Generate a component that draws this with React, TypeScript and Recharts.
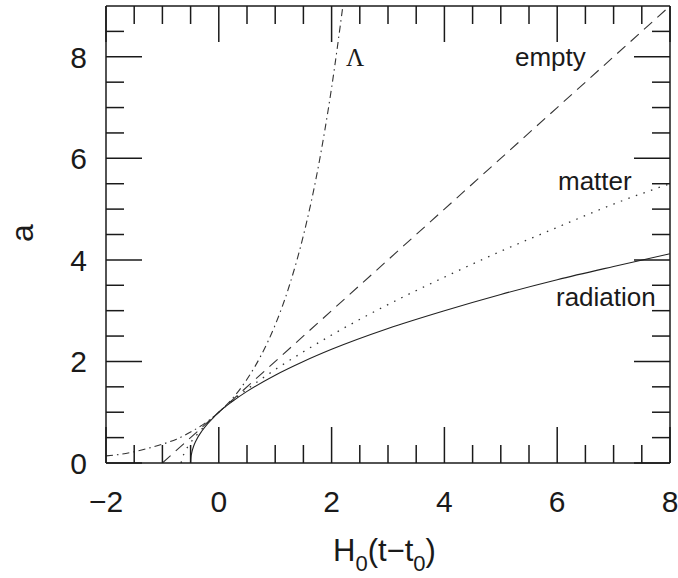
import { LineChart, Line, XAxis, YAxis, ReferenceLine } from "recharts";

// scale factor a vs H0(t-t0)
const lambdaX = [-2, -1.75, -1.5, -1.25, -1, -0.75, -0.5, -0.25, 0, 0.25, 0.5, 0.75, 1, 1.25, 1.5, 1.75, 2, 2.2];
const lambdaA = [0.14, 0.17, 0.22, 0.29, 0.37, 0.47, 0.61, 0.78, 1.0, 1.28, 1.65, 2.12, 2.72, 3.49, 4.48, 5.75, 7.39, 9.0];

const emptyX = [-1, 0, 2, 4, 6, 8];
const emptyA = [0, 1, 3, 5, 7, 9];

const matterX = [-0.667, -0.66, -0.65, -0.6, -0.5, -0.4, -0.3, -0.2, -0.1, 0, 0.5, 1, 1.5, 2, 3, 4, 5, 6, 7, 8];
const matterA = [0, 0.05, 0.09, 0.22, 0.4, 0.54, 0.67, 0.79, 0.9, 1.0, 1.45, 1.84, 2.19, 2.52, 3.12, 3.66, 4.17, 4.64, 5.1, 5.5];

const radX = [-0.5, -0.495, -0.48, -0.45, -0.4, -0.3, -0.2, -0.1, 0, 0.25, 0.5, 1, 1.5, 2, 3, 4, 5, 6, 7, 8];
const radA = [0, 0.1, 0.2, 0.32, 0.45, 0.63, 0.77, 0.89, 1.0, 1.22, 1.41, 1.73, 2.0, 2.24, 2.65, 3.0, 3.32, 3.61, 3.87, 4.12];

const xTicks = [-2, -1.5, -1, -0.5, 0, 0.5, 1, 1.5, 2, 2.5, 3, 3.5, 4, 4.5, 5, 5.5, 6, 6.5, 7, 7.5, 8];
const yTicks = [0, 0.5, 1, 1.5, 2, 2.5, 3, 3.5, 4, 4.5, 5, 5.5, 6, 6.5, 7, 7.5, 8, 8.5];

const zip = (xs: number[], as: number[]) => xs.map((x, i) => ({ x, a: as[i] }));

const W = 678, H = 578;
const M = { top: 6, right: 8, bottom: 85, left: 46 };
const PW = W - 106 - M.right;
const PH = H - M.top - 115;
const INK = "#1a1a1a";
const SANS = "'Liberation Sans', Arial, sans-serif";
const fmt = (v: number) => (v < 0 ? "\u2212" + Math.abs(v) : String(v));

function XTick(p: any) {
  const { x, y, payload } = p;
  const v = payload.value as number;
  const major = v % 2 === 0;
  const len = major ? 36 : 18;
  return (
    <g>
      <line x1={x} x2={x} y1={y} y2={y - len} stroke={INK} strokeWidth={1.5} />
      <line x1={x} x2={x} y1={y - PH} y2={y - PH + len} stroke={INK} strokeWidth={1.5} />
      {major && (
        <text x={x} y={y + 49} textAnchor="middle" fontSize={30} fontFamily={SANS} fill={INK}>
          {fmt(v)}
        </text>
      )}
    </g>
  );
}

function YTick(p: any) {
  const { x, y, payload } = p;
  const v = payload.value as number;
  const major = v % 2 === 0;
  const len = major ? 36 : 18;
  return (
    <g>
      <line x1={x} x2={x + len} y1={y} y2={y} stroke={INK} strokeWidth={1.5} />
      <line x1={x + PW} x2={x + PW - len} y1={y} y2={y} stroke={INK} strokeWidth={1.5} />
      {major && (
        <text x={x - 19} y={y + 11} textAnchor="end" fontSize={30} fontFamily={SANS} fill={INK}>
          {fmt(v)}
        </text>
      )}
    </g>
  );
}

export default function App() {
  return (
    <div style={{ position: "absolute", left: 0, top: 0, width: W, height: H, background: "#fff" }}>
      <LineChart width={W} height={H} margin={M}>
        <XAxis dataKey="x" type="number" domain={[-2, 8]} ticks={xTicks} interval={0} allowDataOverflow
          tickSize={0} tickMargin={0} tickLine={false} tick={XTick} height={30}
          axisLine={{ stroke: INK, strokeWidth: 1.5 }} />
        <YAxis type="number" domain={[0, 9]} ticks={yTicks} interval={0} allowDataOverflow
          tickSize={0} tickMargin={0} tickLine={false} tick={YTick} width={60}
          axisLine={{ stroke: INK, strokeWidth: 1.5 }} />
        <ReferenceLine y={9} stroke={INK} strokeWidth={1.5} />
        <ReferenceLine x={8} stroke={INK} strokeWidth={1.5} />
        <Line data={zip(lambdaX, lambdaA)} dataKey="a" type="monotone" stroke="#333" strokeWidth={1.1}
          strokeDasharray="7 4 1.5 4" dot={false} isAnimationActive={false} />
        <Line data={zip(emptyX, emptyA)} dataKey="a" type="linear" stroke="#333" strokeWidth={1.1}
          strokeDasharray="11 7" dot={false} isAnimationActive={false} />
        <Line data={zip(matterX, matterA)} dataKey="a" type="monotone" stroke="#333" strokeWidth={1.3}
          strokeDasharray="1.5 6.5" dot={false} isAnimationActive={false} />
        <Line data={zip(radX, radA)} dataKey="a" type="monotone" stroke="#222" strokeWidth={1.1}
          dot={false} isAnimationActive={false} />
      </LineChart>
      <svg width={W} height={H} style={{ position: "absolute", left: 0, top: 0, pointerEvents: "none" }}>
        <g fontFamily={SANS} fill={INK}>
          <text transform="translate(33,233) rotate(-90)" textAnchor="middle" fontSize={32}>a</text>
          <text x={333} y={561} fontSize={31}>
            H<tspan fontSize={22} dy={10}>0</tspan>
            <tspan dy={-10}>(t{"\u2212"}t</tspan>
            <tspan fontSize={22} dy={10}>0</tspan>
            <tspan dy={-10}>)</tspan>
          </text>
          <text x={515} y={66} fontSize={26}>empty</text>
          <text x={558} y={190} fontSize={26}>matter</text>
          <text x={556} y={306} fontSize={26}>radiation</text>
        </g>
        <text x={346} y={66} fontSize={25} fontFamily="'Liberation Serif', 'Times New Roman', serif" fill={INK}>
          {"\u039B"}
        </text>
      </svg>
    </div>
  );
}
